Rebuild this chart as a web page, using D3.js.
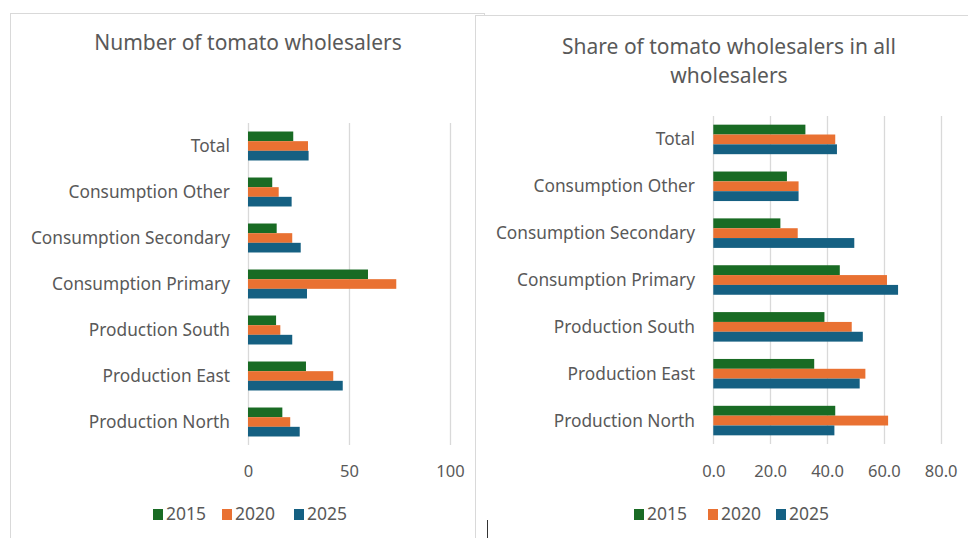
<!DOCTYPE html>
<html><head><meta charset="utf-8">
<script src="https://cdn.jsdelivr.net/npm/d3@7"></script>
<style>
html,body{margin:0;padding:0;background:#fff;}
svg{display:block;}
</style></head>
<body>
<svg id="c" width="968" height="538"></svg>
<script>
const categories = ["Total","Consumption Other","Consumption Secondary","Consumption Primary","Production South","Production East","Production North"];
const years = ["2015","2020","2025"];
const colors = ["#196B24","#E97132","#156082"];
// Number of tomato wholesalers
const count2015 = [22.4, 12.0, 14.2, 59.4, 13.9, 28.7, 17.0];
const count2020 = [29.7, 15.2, 21.9, 73.4, 16.0, 42.2, 20.9];
const count2025 = [30.0, 21.6, 26.1, 29.2, 21.9, 46.9, 25.6];
// Share of tomato wholesalers in all wholesalers
const share2015 = [32.4, 25.9, 23.6, 44.5, 39.1, 35.5, 42.9];
const share2020 = [42.9, 30.0, 29.7, 61.1, 48.7, 53.5, 61.5];
const share2025 = [43.5, 30.0, 49.6, 65.0, 52.6, 51.5, 42.6];
const countTicks = [0, 50, 100];
const shareTicks = [0, 20, 40, 60, 80];

const svg = d3.select("#c");
const textCol = "#595959", gridCol = "#d9d9d9";
const labelFont = "'Noto Sans', sans-serif";

// panel borders
svg.append("rect").attr("x",10.5).attr("y",13.5).attr("width",474).attr("height",540)
  .attr("fill","#fff").attr("stroke","#d9d9d9");
svg.append("rect").attr("x",475.5).attr("y",15.5).attr("width",500).attr("height",540)
  .attr("fill","#fff").attr("stroke","#d9d9d9");
svg.append("line").attr("x1",487.5).attr("x2",487.5).attr("y1",520).attr("y2",538).attr("stroke","#333");

function drawChart(opt){
  const g = svg.append("g");
  const x = d3.scaleLinear().domain(opt.domain).range([opt.x0, opt.x1]);
  const y = d3.scaleBand().domain(categories).range([opt.y0, opt.y1]).paddingInner(0.37).paddingOuter(0.185);
  const ys = d3.scaleBand().domain(years).range([0, y.bandwidth()]);
  // grid
  g.selectAll(".grid").data(opt.ticks).join("line")
    .attr("x1", d=>Math.round(x(d))+0.5).attr("x2", d=>Math.round(x(d))+0.5)
    .attr("y1", opt.y0).attr("y2", opt.y1)
    .attr("stroke", gridCol).attr("stroke-width", 1.3);
  // bars
  const series = opt.series;
  categories.forEach((c, i) => {
    years.forEach((yr, j) => {
      g.append("rect")
        .attr("x", x(0)).attr("y", y(c) + ys(yr))
        .attr("width", x(series[j][i]) - x(0)).attr("height", ys.bandwidth())
        .attr("fill", colors[j]);
    });
  });
  // category labels
  g.selectAll(".cat").data(categories).join("text")
    .attr("x", opt.labelX).attr("y", d => y(d) + y.bandwidth()/2)
    .attr("dy","0.35em").attr("text-anchor","end")
    .attr("font-family", labelFont).attr("font-size", 17.3).attr("fill", textCol)
    .text(d=>d);
  // x axis tick labels
  const ax = d3.axisBottom(x).tickValues(opt.ticks).tickSize(0).tickFormat(opt.fmt);
  const axg = g.append("g").attr("transform", `translate(0,${opt.tickY})`).call(ax);
  axg.select(".domain").remove();
  axg.selectAll("text").attr("font-family", labelFont).attr("font-size", 16.5).attr("fill", textCol).attr("dy","0");
  // title
  const t = g.append("text").attr("text-anchor","middle")
    .attr("font-family", labelFont).attr("font-size", 21).attr("fill", textCol);
  opt.title.forEach((line, k) => {
    t.append("tspan").attr("x", opt.titleX).attr("y", opt.titleY + k*29).text(line);
  });
  // legend
  const lg = g.append("g");
  years.forEach((yr, j) => {
    lg.append("rect").attr("x", opt.legX[j]).attr("y", opt.legY - 11).attr("width", 10).attr("height", 11).attr("fill", colors[j]);
    lg.append("text").attr("x", opt.legX[j] + 13).attr("y", opt.legY)
      .attr("font-family", labelFont).attr("font-size", 17.5).attr("fill", textCol).text(yr);
  });
}

drawChart({
  domain:[0,100], ticks: countTicks, fmt: d3.format("d"),
  x0:248, x1:450, y0:123, y1:445, labelX:230, tickY:474,
  series:[count2015, count2020, count2025],
  title:["Number of tomato wholesalers"], titleX:248, titleY:50,
  legX:[153, 222, 294], legY:520
});
drawChart({
  domain:[0,80], ticks: shareTicks, fmt: d3.format(".1f"),
  x0:713.3, x1:940.7, y0:116, y1:444, labelX:695, tickY:474,
  series:[share2015, share2020, share2025],
  title:["Share of tomato wholesalers in all","wholesalers"], titleX:729, titleY:54,
  legX:[634, 708, 776], legY:520
});
</script>
</body></html>
